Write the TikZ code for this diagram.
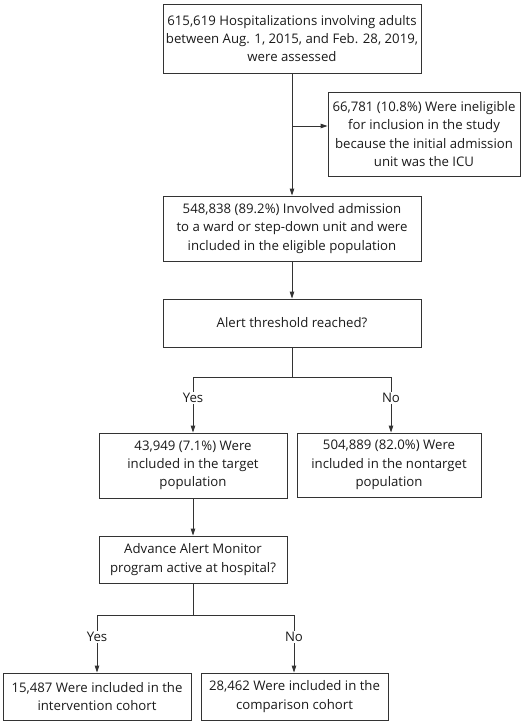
\documentclass[tikz,border=0pt]{standalone}
\usepackage{fontspec}
\setmainfont{Open Sans}
\usetikzlibrary{arrows.meta}
\definecolor{linec}{HTML}{333333}
\definecolor{textc}{HTML}{1A1A1A}
\tikzset{
  box/.style={draw=linec, line width=0.9pt, align=center, inner sep=0pt, text=textc, font=\fontsize{13.2}{18.3}\selectfont},
  lbl/.style={inner sep=1.5pt, text=textc, font=\fontsize{13.2}{18.3}\selectfont},
  conn/.style={draw=linec, line width=0.9pt},
  arr/.style={conn, -{Triangle[length=7pt,width=4.5pt]}}
}
\begin{document}
\begin{tikzpicture}[x=1pt,y=1pt]
\useasboundingbox (0,0) rectangle (525,-725);
\node[box, minimum width=258pt, minimum height=69pt] (b1) at (292,-38.5) {615,619 Hospitalizations involving adults\\between Aug. 1, 2015, and Feb. 28, 2019,\\were assessed};
\node[box, minimum width=192pt, minimum height=84pt] (side) at (424,-134) {66,781 (10.8\%) Were ineligible\\for inclusion in the study\\because the initial admission\\unit was the ICU};
\node[box, minimum width=258pt, minimum height=65pt] (b2) at (292,-228.5) {548,838 (89.2\%) Involved admission\\to a ward or step-down unit and were\\included in the eligible population};
\node[box, minimum width=258pt, minimum height=48pt] (b3) at (292,-323) {Alert threshold reached?};
\node[box, minimum width=188pt, minimum height=65pt] (b4) at (193,-465.5) {43,949 (7.1\%) Were\\included in the target\\population};
\node[box, minimum width=184pt, minimum height=64pt] (b5) at (389,-465) {504,889 (82.0\%) Were\\included in the nontarget\\population};
\node[box, minimum width=188pt, minimum height=47pt] (b6) at (193,-559.5) {Advance Alert Monitor\\program active at hospital?};
\node[box, minimum width=188pt, minimum height=47pt] (b7) at (97,-696.5) {15,487 Were included in the\\intervention cohort};
\node[box, minimum width=187pt, minimum height=47pt] (b8) at (294.5,-696.5) {28,462 Were included in the\\comparison cohort};
\node[lbl] (y1) at (193,-398) {Yes};
\node[lbl] (n1) at (391,-398) {No};
\node[lbl] (y2) at (97,-637) {Yes};
\node[lbl] (n2) at (294,-637) {No};
\coordinate (m1) at (292,-126);
\coordinate (j1) at (292,-377);
\coordinate (j2) at (193,-615);
% connectors
\draw[arr] (b1.south) -- (b2.north);
\draw[arr] (m1) -- (m1 -| side.west);
\draw[arr] (b2.south) -- (b3.north);
\draw[conn] (b3.south) -- (j1);
\draw[conn] (j1) -| (y1.north);
\draw[conn] (j1) -| (n1.north);
\draw[arr] (y1.south) -- (y1.south |- b4.north);
\draw[arr] (n1.south) -- (n1.south |- b5.north);
\draw[arr] (b4.south) -- (b6.north);
\draw[conn] (b6.south) -- (j2);
\draw[conn] (j2) -| (y2.north);
\draw[conn] (j2) -| (n2.north);
\draw[arr] (y2.south) -- (b7.north);
\draw[arr] (n2.south) -- (n2.south |- b8.north);
\end{tikzpicture}
\end{document}
